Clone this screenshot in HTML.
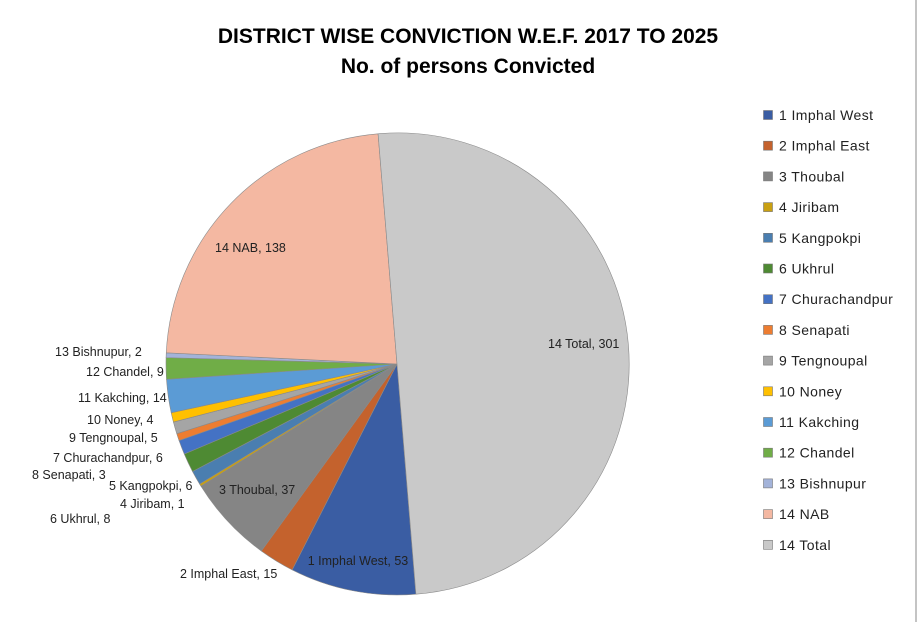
<!DOCTYPE html>
<html><head><meta charset="utf-8"><style>
body{margin:0;background:#fff;}
svg text{font-family:"Liberation Sans",Arial,sans-serif;}
</style></head><body>
<svg id="s" width="924" height="622" xmlns="http://www.w3.org/2000/svg">
<rect x="0" y="0" width="924" height="622" fill="#fff"/>
<line x1="916" y1="0" x2="916" y2="622" stroke="#888" stroke-width="1"/>
<text x="468" y="43" text-anchor="middle" font-size="21" font-weight="bold" fill="#000">DISTRICT WISE CONVICTION W.E.F. 2017 TO 2025</text>
<text x="468" y="73" text-anchor="middle" font-size="21" font-weight="bold" fill="#000">No. of persons Convicted</text>
<g id="pie"></g>
<g id="leg" font-size="14" letter-spacing="0.4" fill="#222"></g>
<g font-size="12.5" fill="#222">
<text x="358" y="565" text-anchor="middle">1 Imphal West, 53</text>
<text x="180" y="578">2 Imphal East, 15</text>
<text x="219" y="494">3 Thoubal, 37</text>
<text x="120" y="508">4 Jiribam, 1</text>
<text x="109" y="490">5 Kangpokpi, 6</text>
<text x="50" y="523">6 Ukhrul, 8</text>
<text x="53" y="462">7 Churachandpur, 6</text>
<text x="32" y="479">8 Senapati, 3</text>
<text x="69" y="442">9 Tengnoupal, 5</text>
<text x="87" y="424">10 Noney, 4</text>
<text x="78" y="402">11 Kakching, 14</text>
<text x="86" y="376">12 Chandel, 9</text>
<text x="55" y="356">13 Bishnupur, 2</text>
<text x="215" y="252">14 NAB, 138</text>
<text x="548" y="348">14 Total, 301</text>
</g>
</svg>
<script>
var names=["1 Imphal West","2 Imphal East","3 Thoubal","4 Jiribam","5 Kangpokpi","6 Ukhrul","7 Churachandpur","8 Senapati","9 Tengnoupal","10 Noney","11 Kakching","12 Chandel","13 Bishnupur","14 NAB","14 Total"];
var vals=[53,15,37,1,6,8,6,3,5,4,14,9,2,138,301];
var cols=["#3A5DA3","#C4622D","#858585","#C9A012","#4A7EB0","#4E8A33","#4472C4","#ED7D31","#A5A5A5","#FFC000","#5B9BD5","#70AD47","#A3B3D9","#F4B8A2","#C9C9C9"];
var tot=vals.reduce((a,b)=>a+b,0),cx=397,cy=364,r=231,a=175.3,g=document.getElementById('pie'),h='';
function pt(d){var t=d*Math.PI/180;return [cx+r*Math.sin(t),cy-r*Math.cos(t)];}
for(var i=0;i<vals.length;i++){var s=a,e=a+vals[i]/tot*360;var p1=pt(s),p2=pt(e);
h+='<path d="M'+cx+','+cy+'L'+p1[0].toFixed(2)+','+p1[1].toFixed(2)+'A'+r+','+r+' 0 '+((e-s)>180?1:0)+' 1 '+p2[0].toFixed(2)+','+p2[1].toFixed(2)+'Z" fill="'+cols[i]+'" stroke="#8a8a8a" stroke-width="0.6"/>';a=e;}
g.innerHTML=h;
var l='';for(var i=0;i<15;i++){var y=115+i*30.7;l+='<rect x="763.5" y="'+(y-4.5)+'" width="9" height="9" fill="'+cols[i]+'" stroke="#777" stroke-width="0.6"/><text x="779" y="'+(y+5)+'">'+names[i]+'</text>';}
document.getElementById('leg').innerHTML=l;
</script>
</body></html>
